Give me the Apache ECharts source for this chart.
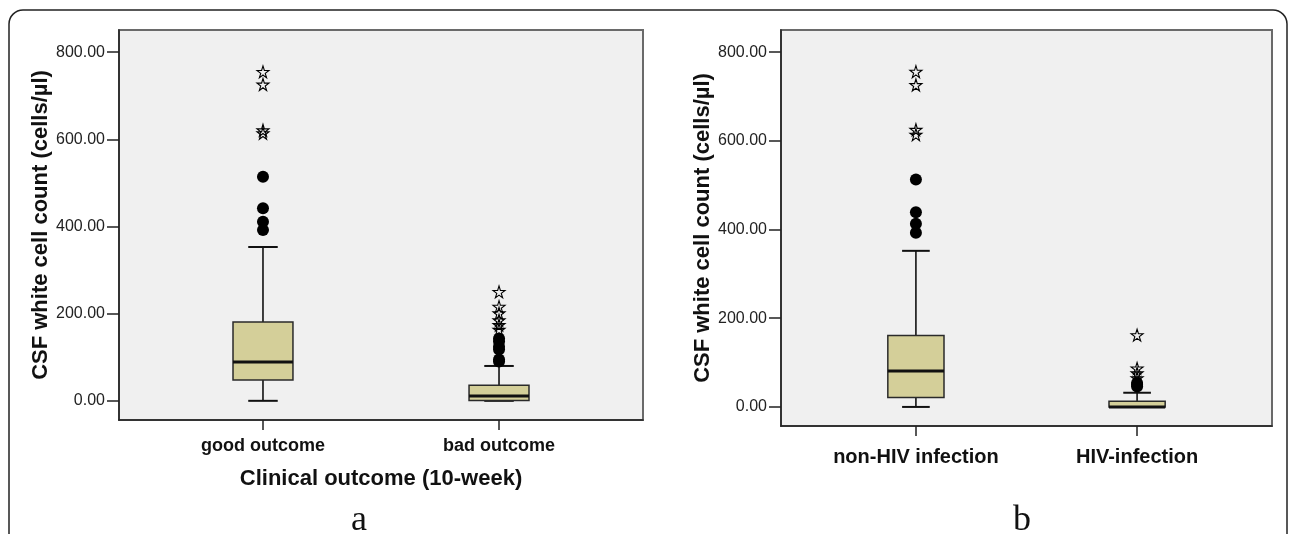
<!DOCTYPE html>
<html><head><meta charset="utf-8">
<script src="https://cdn.jsdelivr.net/npm/echarts@6/dist/echarts.min.js"></script>
<style>html,body{margin:0;padding:0;background:#fff}#c{width:1292px;height:534px}</style>
</head><body><div id="c"></div>
<script>
// ---- data ----
const categoriesA = ['good outcome', 'bad outcome'];
const boxStatsA = [[0, 48, 89, 181, 353], [0, 1, 11, 36, 80]];        // min, Q1, median, Q3, max
const mildOutliersA = [[514, 442, 411, 392], [143, 136, 124, 118, 95, 90]];
const extremeOutliersA = [[755, 726, 621, 614], [250, 216, 201, 185, 174, 163]];

const categoriesB = ['non-HIV infection', 'HIV-infection'];
const boxStatsB = [[0, 21, 81, 161, 352], [0, 0, 0, 13, 32]];
const mildOutliersB = [[513, 439, 413, 393], [54, 50, 46]];
const extremeOutliersB = [[756, 726, 625, 614], [162, 87, 76, 65]];

const yTicks = [0, 200, 400, 600, 800];
const yAxisTitle = 'CSF white cell count (cells/µl)';
const xAxisTitleA = 'Clinical outcome (10-week)';
const panelLabels = ['a', 'b'];

// ---- styling ----
const FONT = '"Liberation Sans", Arial, sans-serif';
const BOX_W = 0.254, CAP_W = 0.125;
const STAR = 'path://M50,0 L61,35 L98,35 L68,57 L79,91 L50,70 L21,91 L32,57 L2,35 L39,35 Z';

function renderBox(params, api) {
  const x = api.value(0);
  const p = [1, 2, 3, 4, 5].map(i => api.coord([x, api.value(i)]));
  const cx = p[0][0];
  const hw = api.size([BOX_W, 0])[0] / 2;
  const cw = api.size([CAP_W, 0])[0] / 2;
  const line = (x1, y1, x2, y2, w) => ({ type: 'line', shape: { x1, y1, x2, y2 }, style: { stroke: '#111', lineWidth: w } });
  return {
    type: 'group',
    children: [
      line(cx, p[4][1], cx, p[3][1], 1.6),
      line(cx - cw, p[4][1], cx + cw, p[4][1], 2),
      line(cx, p[0][1], cx, p[1][1], 1.6),
      line(cx - cw, p[0][1], cx + cw, p[0][1], 2),
      { type: 'rect', shape: { x: cx - hw, y: p[3][1], width: 2 * hw, height: Math.max(p[1][1] - p[3][1], 1) },
        style: { fill: '#D4CF99', stroke: '#2a2a2a', lineWidth: 1.5 } },
      line(cx - hw, p[2][1], cx + hw, p[2][1], 3)
    ]
  };
}

function points(groups) {
  const out = [];
  groups.forEach((vals, i) => vals.forEach(v => out.push([i + 1, v])));
  return out;
}

function yAxisCfg(gridIndex, min, max) {
  return {
    type: 'value', gridIndex, min, max,
    name: yAxisTitle, nameLocation: 'middle', nameGap: 66,
    nameTextStyle: { fontFamily: FONT, fontSize: 22, fontWeight: 'bold', color: '#111' },
    splitLine: { show: false },
    axisLine: { show: true, lineStyle: { color: '#222', width: 1.5 } },
    axisTick: { show: true, length: 12, customValues: yTicks, lineStyle: { color: '#222', width: 1.5 } },
    axisLabel: { customValues: yTicks, margin: 14, formatter: v => Number(v).toFixed(2),
      fontFamily: FONT, fontSize: 16, color: '#222' }
  };
}

function xAxisCfg(gridIndex, cats, labelSize, margin, name) {
  return {
    type: 'value', gridIndex, min: 0.39, max: 2.61,
    name: name || '', nameLocation: 'middle', nameGap: 48,
    nameTextStyle: { fontFamily: FONT, fontSize: 22, fontWeight: 'bold', color: '#111' },
    splitLine: { show: false },
    axisLine: { show: true, onZero: false, lineStyle: { color: '#222', width: 1.5 } },
    axisTick: { show: true, length: 10, customValues: [1, 2], lineStyle: { color: '#222', width: 1.5 } },
    axisLabel: { customValues: [1, 2], margin, formatter: v => cats[Math.round(v) - 1],
      fontFamily: FONT, fontSize: labelSize, fontWeight: 'bold', color: '#111' }
  };
}

function seriesFor(idx, stats, mild, extreme) {
  return [
    { type: 'custom', xAxisIndex: idx, yAxisIndex: idx, renderItem: renderBox,
      encode: { x: 0, y: [1, 2, 3, 4, 5] },
      data: stats.map((s, i) => [i + 1].concat(s)), z: 2 },
    { type: 'scatter', xAxisIndex: idx, yAxisIndex: idx, symbol: 'circle', symbolSize: 12,
      itemStyle: { color: '#000', opacity: 1 }, data: points(mild), z: 3 },
    { type: 'scatter', xAxisIndex: idx, yAxisIndex: idx, symbol: STAR, symbolSize: 12,
      itemStyle: { color: 'rgba(0,0,0,0)', borderColor: '#000', borderWidth: 1.1, opacity: 1 }, data: points(extreme), z: 3 }
  ];
}

const chart = echarts.init(document.getElementById('c'), null, { renderer: 'canvas' });
chart.setOption({
  animation: false,
  backgroundColor: '#ffffff',
  grid: [
    { left: 119, top: 30, width: 524, height: 390, show: true, backgroundColor: '#F0F0F0', borderColor: '#6a6a6a', borderWidth: 2 },
    { left: 781, top: 30, width: 491, height: 396, show: true, backgroundColor: '#F0F0F0', borderColor: '#6a6a6a', borderWidth: 2 }
  ],
  xAxis: [
    xAxisCfg(0, categoriesA, 18, 17, xAxisTitleA),
    xAxisCfg(1, categoriesB, 20, 21, '')
  ],
  yAxis: [ yAxisCfg(0, -44, 851), yAxisCfg(1, -43, 850) ],
  series: [].concat(
    seriesFor(0, boxStatsA, mildOutliersA, extremeOutliersA),
    seriesFor(1, boxStatsB, mildOutliersB, extremeOutliersB)
  ),
  graphic: [
    { type: 'rect', silent: true, shape: { x: 9, y: 10, width: 1278, height: 600, r: 14 },
      style: { fill: 'none', stroke: '#222', lineWidth: 1.5 } },
    { type: 'text', silent: true, style: { x: 359, y: 521, text: panelLabels[0], align: 'center', verticalAlign: 'middle',
      font: '36px "Liberation Serif", "Times New Roman", serif', fill: '#111' } },
    { type: 'text', silent: true, style: { x: 1022, y: 521, text: panelLabels[1], align: 'center', verticalAlign: 'middle',
      font: '36px "Liberation Serif", "Times New Roman", serif', fill: '#111' } }
  ]
});
</script>
</body></html>
